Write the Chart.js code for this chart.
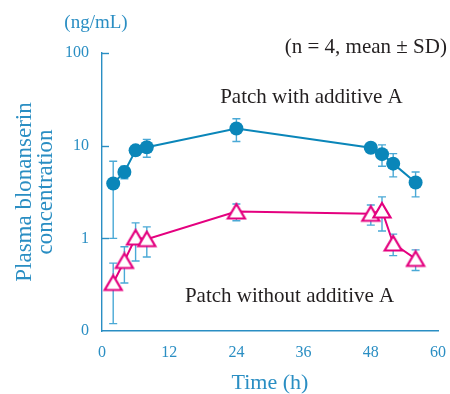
<!DOCTYPE html>
<html>
<head>
<meta charset="utf-8">
<script src="https://cdn.jsdelivr.net/npm/chart.js@4/dist/chart.umd.min.js"></script>
<style>
  html, body { margin: 0; padding: 0; background: #ffffff; }
  #wrap { width: 450px; height: 394px; position: relative; }
</style>
</head>
<body>
<div id="wrap"><canvas id="chart" width="450" height="394"></canvas></div>
<script>
// Sampling times (h)
const hours = [2, 4, 6, 8, 24, 48, 50, 52, 56];

// Plasma blonanserin concentration (ng/mL), mean and SD, n = 4
const withAdditive   = [3.9, 5.2, 8.9, 9.6, 15.3, 9.5, 8.1, 6.4, 4.0];
const withAdditiveSD = [2.9, 0.8, 1.0, 2.1, 4.2, 1.0, 2.1, 1.8, 1.2];
const withoutAdditive   = [0.33, 0.57, 1.02, 0.98, 1.95, 1.84, 2.0, 0.88, 0.60];
const withoutAdditiveSD = [0.21, 0.24, 0.45, 0.35, 0.40, 0.45, 0.8, 0.23, 0.15];

// Axis ticks
const xTickValues = [0, 12, 24, 36, 48, 60];
const yTickValues = [0.1, 1, 10, 100];
const yTickLabels = ['0', '1', '10', '100'];

const BLUE = '#0a86b9';
const AXIS_BLUE = '#2a8ec3';
const BAR_BLUE = '#4aa9d6';
const PINK = '#e4007f';
const TEXT = '#231f20';
const SERIF = '"Liberation Serif", "Times New Roman", serif';

// Open triangle marker, centred on its bounding box
function makeTriangle() {
  const c = document.createElement('canvas');
  c.width = 22; c.height = 19;
  const g = c.getContext('2d');
  g.lineWidth = 2.2;
  g.lineJoin = 'miter';
  g.strokeStyle = PINK;
  g.fillStyle = '#ffffff';
  g.beginPath();
  g.moveTo(11, 2);
  g.lineTo(19.5, 16.5);
  g.lineTo(2.5, 16.5);
  g.closePath();
  g.fill();
  g.stroke();
  return c;
}

const toPoints = (ys) => hours.map((h, i) => ({ x: h, y: ys[i] }));

// Vertical SD bars with caps, drawn beneath the markers
const errorBars = {
  id: 'errorBars',
  beforeDatasetsDraw(chart) {
    const { ctx, scales: { x, y } } = chart;
    ctx.save();
    ctx.strokeStyle = BAR_BLUE;
    ctx.lineWidth = 1.4;
    chart.data.datasets.forEach((ds) => {
      ds.data.forEach((p, i) => {
        const sd = ds.sd[i];
        const px = x.getPixelForValue(p.x);
        const hi = y.getPixelForValue(p.y + sd);
        const lo = y.getPixelForValue(Math.max(p.y - sd, 0.1));
        ctx.beginPath();
        ctx.moveTo(px, hi); ctx.lineTo(px, lo);
        ctx.moveTo(px - 4, hi); ctx.lineTo(px + 4, hi);
        ctx.moveTo(px - 4, lo); ctx.lineTo(px + 4, lo);
        ctx.stroke();
      });
    });
    ctx.restore();
  }
};

// Short tick marks on the inner side of the y axis, plus captions
const decorations = {
  id: 'decorations',
  afterDraw(chart) {
    const { ctx, chartArea, scales: { x, y } } = chart;
    ctx.save();
    ctx.strokeStyle = AXIS_BLUE;
    ctx.lineWidth = 1.4;
    yTickValues.forEach((v) => {
      if (v <= y.min) return;
      const py = Math.round(y.getPixelForValue(v)) + 0.5;
      ctx.beginPath();
      ctx.moveTo(chartArea.left, py);
      ctx.lineTo(chartArea.left + 7, py);
      ctx.stroke();
    });

    ctx.textBaseline = 'middle';
    ctx.fillStyle = AXIS_BLUE;
    ctx.font = '19px ' + SERIF;
    ctx.textAlign = 'center';
    ctx.fillText('(ng/mL)', chartArea.left - 6, chartArea.top - 30);

    ctx.fillStyle = TEXT;
    ctx.font = '21px ' + SERIF;
    ctx.textAlign = 'right';
    ctx.fillText('(n = 4, mean \u00B1 SD)', x.getPixelForValue(61.6), y.getPixelForValue(115));
    ctx.textAlign = 'left';
    ctx.fillText('Patch with additive A', x.getPixelForValue(21.1), y.getPixelForValue(33));
    ctx.fillText('Patch without additive A', x.getPixelForValue(14.8), y.getPixelForValue(0.233));
    ctx.restore();
  }
};

new Chart(document.getElementById('chart'), {
  type: 'line',
  data: {
    datasets: [
      {
        label: 'Patch with additive A',
        data: toPoints(withAdditive),
        sd: withAdditiveSD,
        borderColor: BLUE,
        backgroundColor: BLUE,
        borderWidth: 2,
        pointStyle: 'circle',
        pointRadius: 7,
        pointBorderWidth: 0,
        pointBackgroundColor: BLUE,
        tension: 0
      },
      {
        label: 'Patch without additive A',
        data: toPoints(withoutAdditive),
        sd: withoutAdditiveSD,
        borderColor: PINK,
        backgroundColor: PINK,
        borderWidth: 2,
        pointStyle: makeTriangle(),
        pointRadius: 9,
        tension: 0
      }
    ]
  },
  options: {
    responsive: false,
    animation: false,
    events: [],
    layout: { padding: { top: 53, right: 12, bottom: 0, left: 0 } },
    plugins: {
      legend: { display: false },
      tooltip: { enabled: false }
    },
    scales: {
      x: {
        type: 'linear',
        min: 0,
        max: 60,
        afterBuildTicks(axis) { axis.ticks = xTickValues.map((v) => ({ value: v })); },
        afterFit(axis) {
          axis.height = 63;
          axis.paddingLeft = 0;
          axis.paddingRight = 0;
        },
        grid: { display: false, drawTicks: false },
        border: { display: true, color: AXIS_BLUE, width: 1.4 },
        ticks: {
          color: AXIS_BLUE,
          padding: 12,
          font: { family: SERIF, size: 16 },
          maxRotation: 0
        },
        title: {
          display: true,
          text: 'Time (h)',
          color: AXIS_BLUE,
          font: { family: SERIF, size: 22, lineHeight: 1.0 },
          padding: { top: 0, bottom: 0 }
        }
      },
      y: {
        type: 'logarithmic',
        min: 0.1,
        max: 100,
        afterBuildTicks(axis) { axis.ticks = yTickValues.map((v) => ({ value: v })); },
        afterFit(axis) { axis.width = 102; },
        grid: { display: false, drawTicks: false },
        border: { display: true, color: AXIS_BLUE, width: 1.4 },
        ticks: {
          color: AXIS_BLUE,
          padding: 13,
          font: { family: SERIF, size: 16 },
          callback: (v) => {
            const i = yTickValues.findIndex((t) => Math.abs(t - v) < 1e-9);
            return i >= 0 ? yTickLabels[i] : '';
          }
        },
        title: {
          display: true,
          text: ['Plasma blonanserin', 'concentration'],
          color: AXIS_BLUE,
          font: { family: SERIF, size: 23, lineHeight: 0.9 },
          padding: { top: 15, bottom: 0 }
        }
      }
    }
  },
  plugins: [errorBars, decorations]
});
</script>
</body>
</html>
